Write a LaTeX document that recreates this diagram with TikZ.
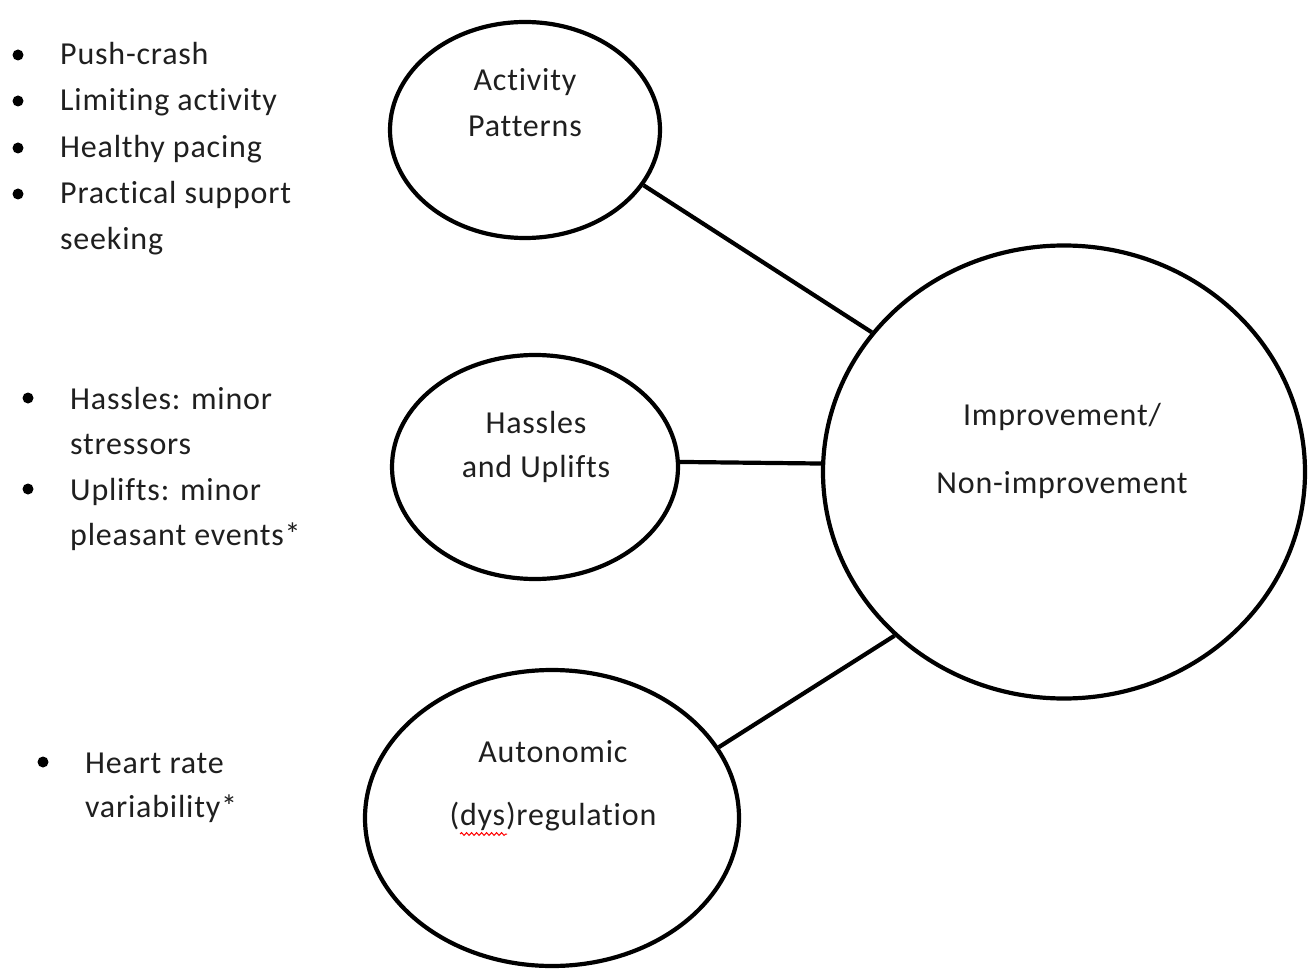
\documentclass[tikz,border=0pt]{standalone}
\usepackage{fontspec}
\setmainfont[RawFeature=-liga, LetterSpace=2.5]{Carlito}
\usetikzlibrary{decorations.pathmorphing,shapes.geometric}
\begin{document}
\begin{tikzpicture}[x=1pt,y=-1pt,
  bub/.style={draw=black, line width=4.2pt, ellipse, inner sep=0pt},
  link/.style={draw=black, line width=4.2pt},
  txt/.style={inner sep=0pt, text=black!88, font=\fontsize{32}{38}\selectfont},
  ltxt/.style={txt, anchor=base west},
  ctxt/.style={txt, anchor=base},
  dot/.style={circle, fill=black, inner sep=0pt, minimum size=11pt}]
\useasboundingbox (0,0) rectangle (1311,973);
\fill[white] (0,0) rectangle (1311,973);

% ellipses
\node[bub, minimum width=270pt, minimum height=216pt] (act) at (525,130) {};
\node[bub, minimum width=286pt, minimum height=224pt] (has) at (535,467) {};
\node[bub, minimum width=374pt, minimum height=296pt] (aut) at (552,818) {};
\node[bub, minimum width=482pt, minimum height=453pt] (imp) at (1064,472) {};

% connectors
\draw[link] (act.-25) -- (imp.144);
\draw[link] (has.2) -- (imp.178);
\draw[link] (aut.23) -- (imp.224);

% ellipse labels
\node[ctxt] (actA) at (525,91) {Activity};
\node[ctxt] (actB) at (525,137) {Patterns};
\node[ctxt] (hasA) at (536,433) {Hassles};
\node[ctxt] (hasB) at (536,477) {and Uplifts};
\node[ctxt] (autA) at (553,762) {Autonomic};
\node[ctxt] (autB) at (553,825) {(dys)regulation};
\node[ctxt] (impA) at (1062,425) {Improvement/};
\node[ctxt] (impB) at (1062,493) {Non-improvement};
\draw[red, line width=1pt, decorate, decoration={snake, amplitude=1.4pt, segment length=5pt}]
  (460,834) -- (507,834);

% list 1
\node[dot] (d1) at (18,55) {};
\node[dot] (d2) at (18,101) {};
\node[dot] (d3) at (18,148) {};
\node[dot] (d4) at (18,194) {};
\node[ltxt] (l1) at (60,65) {Push-crash};
\node[ltxt] (l2) at (60,111) {Limiting activity};
\node[ltxt] (l3) at (60,158) {Healthy pacing};
\node[ltxt] (l4) at (60,204) {Practical support};
\node[ltxt] (l5) at (60,250) {seeking};

% list 2
\node[dot] (e1) at (28,398) {};
\node[dot] (e2) at (28,489) {};
\node[ltxt] (m1) at (70,409) {Hassles: minor};
\node[ltxt] (m2) at (70,454) {stressors};
\node[ltxt] (m3) at (70,500) {Uplifts: minor};
\node[ltxt] (m4) at (70,545) {pleasant events*};

% list 3
\node[dot] (f1) at (43,762) {};
\node[ltxt] (n1) at (85,773) {Heart rate};
\node[ltxt] (n2) at (85,817) {variability*};
\end{tikzpicture}
\end{document}
